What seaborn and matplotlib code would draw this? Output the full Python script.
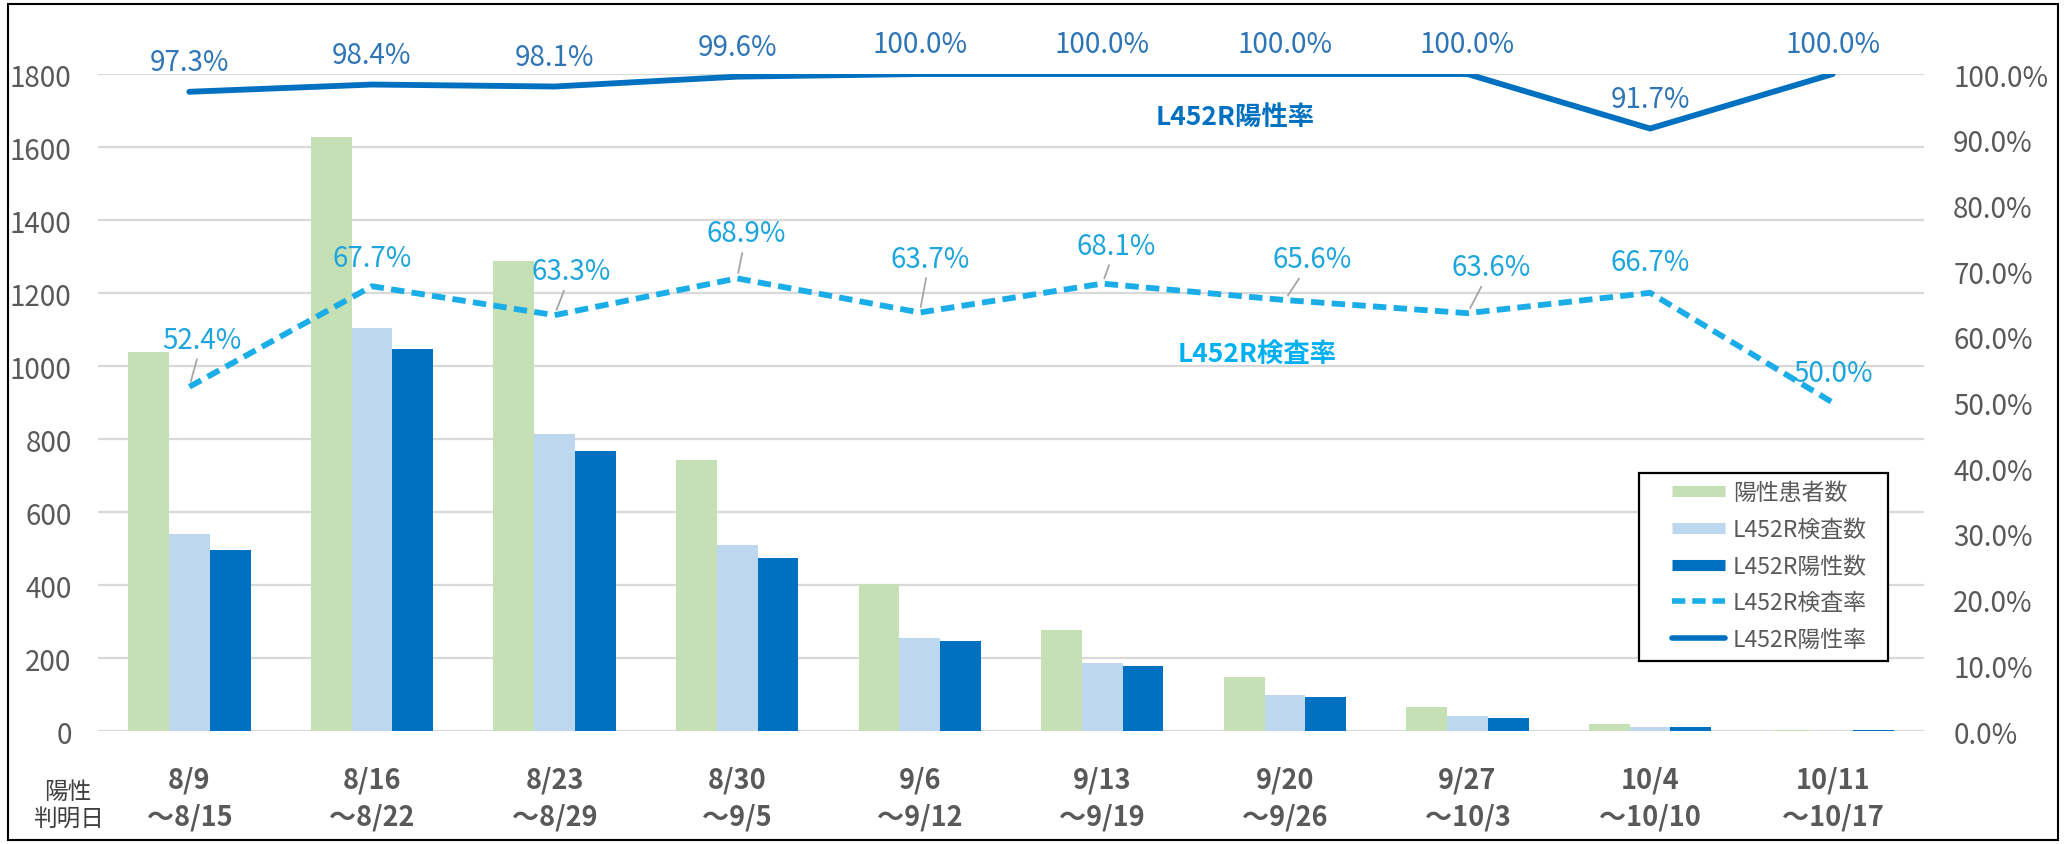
import numpy as np
import pandas as pd
import matplotlib
matplotlib.use('Agg')
import matplotlib.pyplot as plt
import seaborn as sns
from matplotlib.lines import Line2D
from matplotlib.patches import Rectangle

# データ
weeks = ['8/9\n～8/15', '8/16\n～8/22', '8/23\n～8/29', '8/30\n～9/5', '9/6\n～9/12',
         '9/13\n～9/19', '9/20\n～9/26', '9/27\n～10/3', '10/4\n～10/10', '10/11\n～10/17']
patients = [1039, 1627, 1288, 743, 403, 276, 149, 66, 18, 2]
tested = [541, 1103, 815, 510, 254, 187, 98, 41, 12, 1]
l452r_pos = [496, 1046, 766, 475, 246, 177, 93, 37, 11, 2]
test_rate = [52.4, 67.7, 63.3, 68.9, 63.7, 68.1, 65.6, 63.6, 66.7, 50.0]
pos_rate = [97.3, 98.4, 98.1, 99.6, 100.0, 100.0, 100.0, 100.0, 91.7, 100.0]

bar_names = ['陽性患者数', 'L452R検査数', 'L452R陽性数']
line_names = ['L452R検査率', 'L452R陽性率']

# 見た目
bar_colors = ['#C5E0B4', '#BDD7EE', '#0070C0']
c_test = '#1AADE8'
c_pos = '#0070C0'
c_test_lbl = '#1EA5DD'
c_pos_lbl = '#2E75B6'
gray = '#595959'

# ラベル位置（ピクセル）と引き出し線
test_offsets = [(13, 47), (0, 28), (17, 44), (9, 45), (10, 54), (14, 38), (27, 41), (24, 46), (0, 31), (0, 30)]
test_leaders = [True, False, True, True, True, True, True, True, False, False]

sns.set_style('white')
plt.rcParams['font.family'] = ['Noto Sans CJK JP', 'DejaVu Sans']

df = pd.DataFrame({'week': weeks, bar_names[0]: patients, bar_names[1]: tested, bar_names[2]: l452r_pos})
df = df.melt(id_vars='week', var_name='series', value_name='count')

fig, ax = plt.subplots(figsize=(20.69, 8.45), dpi=100)
fig.subplots_adjust(left=0.0474, right=0.9299, bottom=0.1337, top=0.9112)

sns.barplot(data=df, x='week', y='count', hue='series', order=weeks, hue_order=bar_names,
            palette=bar_colors, saturation=1, width=0.67, gap=0, linewidth=0, ax=ax, legend=False)
ax.set_xlim(-0.5, len(weeks) - 0.5)
ax.set_ylim(0, 1800)
ax.set_yticks(range(0, 1801, 200))
ax.yaxis.grid(True, color='#D9D9D9', lw=1.6)
ax.set_axisbelow(True)
ax.set_xlabel('')
ax.set_ylabel('')
ax.set_xticks(range(len(weeks)))
ax.set_xticklabels(weeks, fontsize=19.5, fontweight='bold', color=gray, linespacing=1.4)
ax.tick_params(axis='x', length=0, pad=25)
ax.tick_params(axis='y', length=0, pad=19, labelsize=20, labelcolor=gray)
for s in ax.spines.values():
    s.set_visible(False)

ax2 = ax.twinx()
x = np.arange(len(weeks))
sns.lineplot(x=x, y=test_rate, ax=ax2, color=c_test, lw=4.2, linestyle='--')
ax2.lines[-1].set_dashes((2.3, 1.25))
sns.lineplot(x=x, y=pos_rate, ax=ax2, color=c_pos, lw=4.2, solid_capstyle='round')
ax2.set_ylim(0, 100)
ax2.set_yticks(range(0, 101, 10))
ax2.set_yticklabels([f'{v:.1f}%' for v in range(0, 101, 10)])
ax2.tick_params(axis='y', length=0, pad=21, labelsize=20, labelcolor=gray)
ax2.set_ylabel('')
ax2.grid(False)
for s in ax2.spines.values():
    s.set_visible(False)

# データラベル
for i, v in enumerate(test_rate):
    dx, dy = test_offsets[i]
    arrow = dict(arrowstyle='-', color='#A6A6A6', lw=1.3, shrinkA=1, shrinkB=4) if test_leaders[i] else None
    ax2.annotate(f'{v:.1f}%', xy=(i, v), xytext=(dx, dy), textcoords='offset pixels',
                 ha='center', va='center', fontsize=20, color=c_test_lbl, arrowprops=arrow)
for i, v in enumerate(pos_rate):
    ax2.annotate(f'{v:.1f}%', xy=(i, v), xytext=(0, 30), textcoords='offset pixels',
                 ha='center', va='center', fontsize=20, color=c_pos_lbl)

ax2.text(5.73, 93.6, 'L452R陽性率', fontsize=19, fontweight='bold', color=c_pos, ha='center', va='center')
ax2.text(5.85, 57.5, 'L452R検査率', fontsize=19, fontweight='bold', color='#00B0F0', ha='center', va='center')

# 凡例（枠は別に描く）
box = Rectangle((0.8439, 0.1065), 0.1364, 0.2862, transform=ax2.transAxes, facecolor='white',
                edgecolor='black', lw=1.6, zorder=4)
ax2.add_patch(box)
handles = [Line2D([], [], color=c, lw=8, solid_capstyle='butt') for c in bar_colors]
dash = Line2D([], [], color=c_test, lw=4, linestyle='--')
dash.set_dashes((2.4, 1.25))
handles += [dash, Line2D([], [], color=c_pos, lw=4, solid_capstyle='round')]
leg = ax2.legend(handles, bar_names + line_names, loc='center left', bbox_to_anchor=(0.862, 0.2511),
                 borderaxespad=0, borderpad=0, frameon=False, fontsize=16.5,
                 handlelength=2.3, handletextpad=0.35, labelspacing=0.6)
leg.set_zorder(5)
for t in leg.get_texts():
    t.set_color(gray)

fig.text(68 / 2069, 1 - 806 / 845, '陽性\n判明日', fontsize=17, color='#404040', ha='center', va='center',
         linespacing=1.25)

fig.patches.append(Rectangle((8 / 2069, 4 / 845), 2050 / 2069, 836 / 845, transform=fig.transFigure,
                             fill=False, ec='black', lw=1.5))

fig.savefig('out.png', dpi=100)
